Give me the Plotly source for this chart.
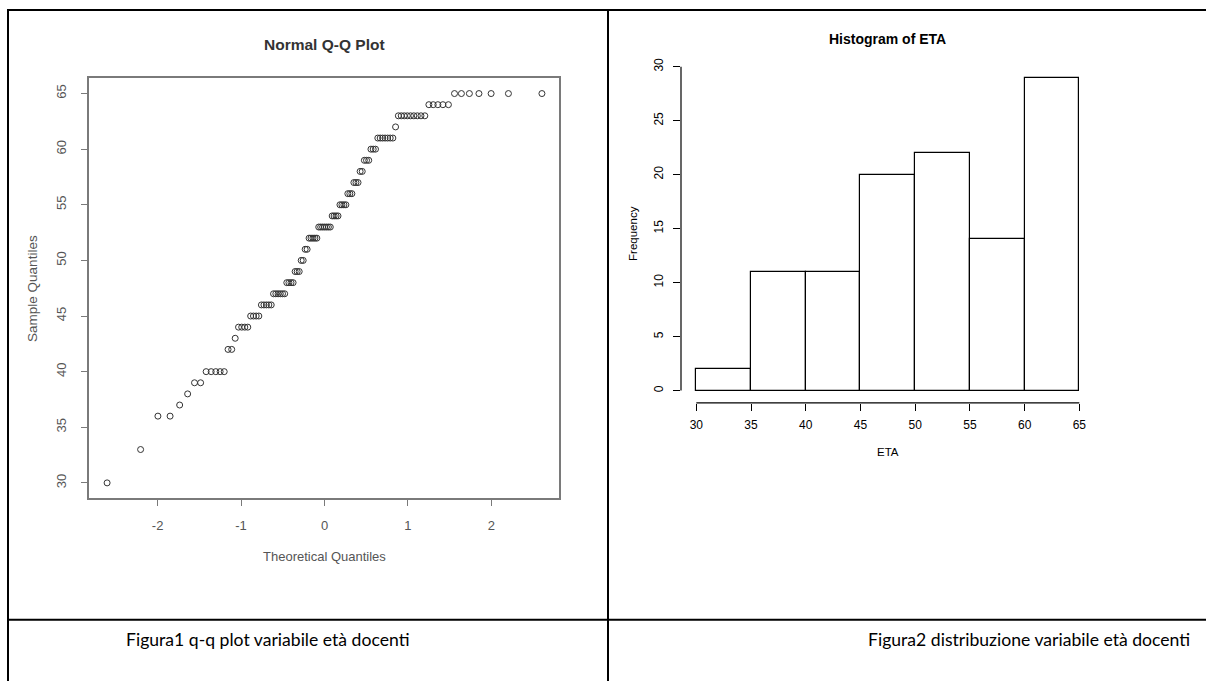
import statistics
import plotly.graph_objects as go

# ---------------- data ----------------
# Ages of the teachers (value -> number of teachers)
age_values = [30, 33, 36, 37, 38, 39, 40, 42, 43, 44, 45, 46, 47, 48, 49, 50,
              51, 52, 53, 54, 55, 56, 57, 58, 59, 60, 61, 62, 63, 64, 65]
age_counts = [1, 1, 2, 1, 1, 2, 5, 2, 1, 4, 4, 5, 6, 4, 3, 2,
              2, 5, 7, 4, 4, 3, 3, 2, 3, 3, 7, 1, 9, 5, 7]

# Histogram of ETA
bin_edges = [30, 35, 40, 45, 50, 55, 60, 65]
hist_counts = [2, 11, 11, 20, 22, 14, 29]

qq_xticks = [-2, -1, 0, 1, 2]
qq_xticktext = ["-2", "-1", "0", "1", "2"]
qq_yticks = [30, 35, 40, 45, 50, 55, 60, 65]
hist_xticks = [30, 35, 40, 45, 50, 55, 60, 65]
hist_yticks = [0, 5, 10, 15, 20, 25, 30]

caption_left = "Figura1 q-q plot variabile età docenti"
caption_right = "Figura2 distribuzione variabile età docenti"

# ---------------- derived ----------------
ages = [v for v, c in zip(age_values, age_counts) for _ in range(c)]
n = len(ages)
nd = statistics.NormalDist()
theo = [nd.inv_cdf((i + 0.5) / n) for i in range(n)]  # R ppoints, a = 0.5

bin_centers = [(a + b) / 2 for a, b in zip(bin_edges[:-1], bin_edges[1:])]
bin_widths = [b - a for a, b in zip(bin_edges[:-1], bin_edges[1:])]

W, H = 1206, 681
Y_OFF, Y_SCALE = 7.0, 0.99   # compensation for the page capture


def px(x):
    return x / W


def py(y):
    return 1 - ((y - Y_OFF) / Y_SCALE) / H


QQ_GREY = "#555555"
QQ_LINE = "#7a7a7a"
BASE_FONT = "Liberation Sans, Arial, sans-serif"

fig = go.Figure()

fig.add_trace(go.Scatter(
    x=theo, y=ages, mode="markers", xaxis="x", yaxis="y",
    marker=dict(symbol="circle-open", size=6, color="#333333",
                line=dict(width=1, color="#333333")),
    hoverinfo="x+y",
))

fig.add_trace(go.Bar(
    x=bin_centers, y=hist_counts, width=bin_widths, xaxis="x2", yaxis="y2",
    marker=dict(color="white", line=dict(color="black", width=1.2)),
))

qq_dom_x = [px(88.7), px(559)]
qq_dom_y = [py(498.6), py(78)]
h_dom_x = [px(681), px(1095)]
h_dom_y = [py(403), py(65)]

fig.update_layout(
    width=W, height=H,
    margin=dict(l=0, r=0, t=0, b=0),
    paper_bgcolor="white", plot_bgcolor="white",
    showlegend=False,
    font=dict(family=BASE_FONT, color="black"),
    bargap=0,
    xaxis=dict(domain=qq_dom_x, range=[-2.826, 2.81], tickvals=qq_xticks,
               ticktext=qq_xticktext, ticks="outside", ticklen=6,
               tickcolor=QQ_LINE, showline=True, mirror=True,
               linecolor=QQ_LINE, linewidth=1.5, showgrid=False,
               zeroline=False, tickfont=dict(size=13, color=QQ_GREY),
               ticklabelstandoff=8, anchor="y"),
    yaxis=dict(domain=qq_dom_y, range=[28.6, 66.4], tickvals=qq_yticks,
               tickangle=-90, ticks="outside", ticklen=6,
               tickcolor=QQ_LINE, showline=True, mirror=True,
               linecolor=QQ_LINE, linewidth=1.5, showgrid=False,
               zeroline=False, tickfont=dict(size=13, color=QQ_GREY),
               ticklabelstandoff=10, anchor="x"),
    xaxis2=dict(domain=h_dom_x, range=[28.6, 66.43], tickvals=hist_xticks,
                ticks="outside", ticklen=7, tickcolor="black",
                showline=False, showgrid=False, zeroline=False,
                tickfont=dict(size=12, color="black"),
                ticklabelstandoff=4, anchor="y2"),
    yaxis2=dict(domain=h_dom_y, range=[-1.14, 30.16], tickvals=hist_yticks,
                tickangle=-90, ticks="outside", ticklen=7, tickcolor="black",
                showline=False, showgrid=False, zeroline=False,
                tickfont=dict(size=12, color="black"),
                ticklabelstandoff=5, anchor="x2"),
)

# R-style axis lines for the histogram (spanning first to last tick only)
fig.add_shape(type="line", xref="x2", yref="paper",
              x0=hist_xticks[0], x1=hist_xticks[-1], y0=h_dom_y[0], y1=h_dom_y[0],
              line=dict(color="black", width=1.2))
fig.add_shape(type="line", xref="paper", yref="y2",
              x0=h_dom_x[0], x1=h_dom_x[0], y0=hist_yticks[0], y1=hist_yticks[-1],
              line=dict(color="black", width=1.2))

# Table borders
tbl = dict(color="black", width=2)
fig.add_shape(type="line", xref="paper", yref="paper",
              x0=px(7), x1=1, y0=py(10), y1=py(10), line=tbl)
fig.add_shape(type="line", xref="paper", yref="paper",
              x0=px(8), x1=px(8), y0=py(10), y1=0, line=tbl)
fig.add_shape(type="line", xref="paper", yref="paper",
              x0=px(608), x1=px(608), y0=py(10), y1=0, line=tbl)
fig.add_shape(type="line", xref="paper", yref="paper",
              x0=px(8), x1=1, y0=py(620), y1=py(620), line=tbl)

ann = []
# Q-Q texts
ann.append(dict(text="<b>Normal Q-Q Plot</b>", x=px(324), y=py(44.6),
                font=dict(size=15.5, color="#333333")))
ann.append(dict(text="Theoretical Quantiles", x=px(324), y=py(557),
                font=dict(size=13, color=QQ_GREY)))
ann.append(dict(text="Sample Quantiles", x=px(33), y=py(289), textangle=-90,
                font=dict(size=13.5, color=QQ_GREY)))
# Histogram texts
ann.append(dict(text="<b>Histogram of ETA</b>", x=px(887), y=py(39),
                font=dict(size=14, color="black")))
ann.append(dict(text="ETA", x=px(888), y=py(451.7),
                font=dict(size=11.5, color="black")))
ann.append(dict(text="Frequency", x=px(633), y=py(234), textangle=-90,
                font=dict(size=11.5, color="black")))
# Captions
cap_font = dict(size=17.6, color="black", family="Lato, Open Sans, sans-serif")
ann.append(dict(text=caption_left, x=px(124), y=py(640), xanchor="left",
                font=cap_font))
ann.append(dict(text=caption_right, x=px(866), y=py(640), xanchor="left",
                font=cap_font))

for a in ann:
    a.setdefault("xanchor", "center")
    a.update(xref="paper", yref="paper", showarrow=False, yanchor="middle")
    fig.add_annotation(**a)

fig.write_html(
    "out.html",
    config={"displayModeBar": False},
    post_script="document.body.style.margin='0';"
                "document.body.style.overflow='hidden';",
)
